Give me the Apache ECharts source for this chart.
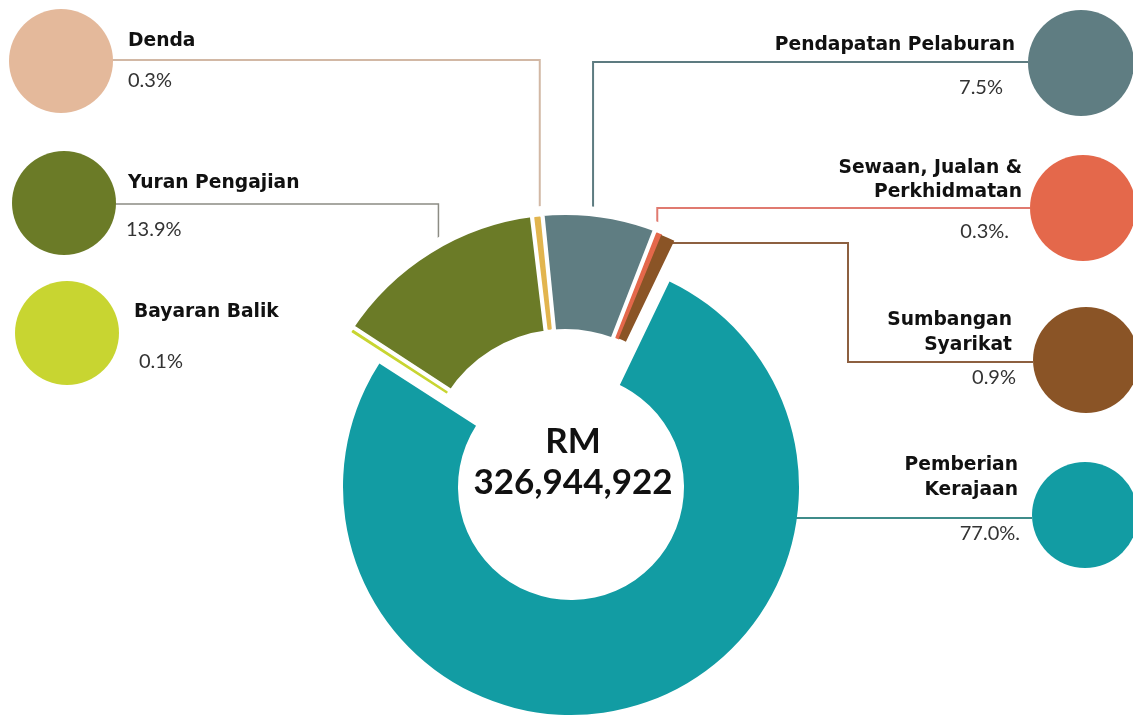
<!DOCTYPE html>
<html>
<head>
<meta charset="utf-8">
<script src="https://cdn.jsdelivr.net/npm/echarts@6/dist/echarts.min.js"></script>
<style>
  html, body { margin: 0; padding: 0; background: #fff; }
  #chart { width: 1133px; height: 718px; }
</style>
</head>
<body>
<div id="chart"></div>
<script>
// ---------------- DATA ----------------
const categories = ['Bayaran Balik', 'Yuran Pengajian', 'Denda', 'Pendapatan Pelaburan',
  'Sewaan, Jualan & Perkhidmatan', 'Sumbangan Syarikat', 'Pemberian Kerajaan'];
const shares = [0.1, 13.9, 0.3, 7.5, 0.3, 0.9, 77.0];
const pctText = ['0.1%', '13.9%', '0.3%', '7.5%', '0.3%.', '0.9%', '77.0%.'];
const labelNames = ['Bayaran Balik', 'Yuran Pengajian', 'Denda', 'Pendapatan Pelaburan',
  'Sewaan, Jualan &\nPerkhidmatan', 'Sumbangan\nSyarikat', 'Pemberian\nKerajaan'];
const totalLines = ['RM', '326,944,922'];

// ---------------- STYLE / LAYOUT ----------------
const sliceColors = ['#c8d531', '#6b7b27', '#e2b54f', '#5f7d82', '#e4684b', '#8a5426', '#129ca3'];
const dotColors   = ['#c8d531', '#6b7b27', '#e4b99b', '#5f7d82', '#e4684b', '#8a5426', '#129ca3'];
const lineColors  = [null, '#8c8c84', '#d2b8a5', '#5d7b80', '#e07a70', '#8d6040', '#3f8c8a'];

const BIG = [6], GROUP = [1, 3], SLIVERS = [0, 2, 4, 5];
const CA = [571, 487], RA = [113, 228];      // main ring
const CB = [565, 469];                       // exploded group
const RB = [135, 259], BORDER_B = 10;
const RC = [141, 253];
const R_EDGE = 253;
const START = 147.2;

// leader line layout (elbows)
const leaders = {
  1: { dx: 10, y: 204, x: 115 },
  2: { dx: 3, y: 60, x: 112 },
  3: { dx: -7, y: 62, x: 1028 },
  4: { dx: -4, y: 208, x: 1030 },
  5: { k: 0.955, turn: 848, y: 362, x: 1033 },
  6: { y: 518, x: 1032 }
};

const TRANSP = 'rgba(0,0,0,0)';
function buildData(visibleIdx, styleFn, labelIdx) {
  return categories.map((c, i) => {
    const vis = visibleIdx.indexOf(i) >= 0;
    const hasLabel = labelIdx.indexOf(i) >= 0;
    return {
      name: c,
      value: shares[i],
      itemStyle: vis ? styleFn(i) : { color: TRANSP, borderWidth: 0 },
      label: { show: hasLabel },
      labelLine: { show: hasLabel, lineStyle: { color: lineColors[i] || '#888', width: i === 1 ? 1.5 : 2 } }
    };
  });
}

function groupLayout(p) {
  const spec = leaders[p.dataIndex];
  if (!spec || !p.labelLinePoints) return {};
  const p0 = p.labelLinePoints[0];
  let pts;
  if (spec.turn === undefined) {
    const ax = p0[0] + spec.dx;
    const ay = CB[1] - Math.sqrt(R_EDGE * R_EDGE - Math.pow(ax - CB[0], 2));
    pts = [[ax, ay], [ax, spec.y], [spec.x, spec.y]];
  } else {
    const ax = CB[0] + (p0[0] - CB[0]) * spec.k;
    const ay = CB[1] + (p0[1] - CB[1]) * spec.k;
    pts = [[ax, ay], [spec.turn, ay], [spec.turn, spec.y], [spec.x, spec.y]];
  }
  return { x: spec.x, y: spec.y, labelLinePoints: pts };
}
function mainLayout(p) {
  const spec = leaders[p.dataIndex];
  if (!spec) return {};
  const x0 = CA[0] + Math.sqrt(RA[1] * RA[1] - Math.pow(spec.y - CA[1], 2)) - 1;
  return { x: spec.x, y: spec.y, labelLinePoints: [[x0, spec.y], [(x0 + spec.x) / 2, spec.y], [spec.x, spec.y]] };
}

const baseLabel = { show: true, formatter: ' ', fontSize: 1, color: TRANSP };

const series = [
  {
    type: 'pie', center: CA, radius: RA, startAngle: START, clockwise: true,
    avoidLabelOverlap: false, silent: true, animation: false,
    label: baseLabel, labelLine: { show: true },
    labelLayout: mainLayout,
    data: buildData(BIG, i => ({ color: sliceColors[i], borderWidth: 0 }), [6])
  },
  {
    type: 'pie', center: CB, radius: RB, startAngle: START, clockwise: true,
    avoidLabelOverlap: false, silent: true, animation: false,
    label: baseLabel, labelLine: { show: true },
    labelLayout: groupLayout,
    data: buildData(GROUP, i => ({ color: sliceColors[i], borderColor: '#fff', borderWidth: BORDER_B }), [1, 2, 3, 4, 5])
  },
  {
    type: 'pie', center: CB, radius: RC, startAngle: START, clockwise: true,
    avoidLabelOverlap: false, silent: true, animation: false,
    label: { show: false }, labelLine: { show: false },
    data: buildData(SLIVERS, i => ({ color: sliceColors[i], borderColor: sliceColors[i], borderWidth: i === 5 ? 0 : 1.6 }), [])
  }
];

// legend blocks (circle + name + percentage)
const NAME_FONT = { fontFamily: 'DejaVu Sans', fontWeight: 'bold', fontSize: 18.7, color: '#111' };
const PCT_FONT = { fontFamily: 'Lato', fontWeight: 'normal', fontSize: 20, color: '#333' };
const legendLayout = [
  { i: 2, side: 'left', pos: 9,  cy: 61,  size: 104, lhN: 40, lhP: 40, padN: 10, padP: 10 },
  { i: 1, side: 'left', pos: 12, cy: 203, size: 104, lhN: 54, lhP: 40, padN: 7,  padP: 5 },
  { i: 0, side: 'left', pos: 15, cy: 333, size: 104, lhN: 58, lhP: 42, padN: 10, padP: 15 },
  { i: 3, side: 'right', pos: -1, cy: 63,  size: 106, lhN: 50, lhP: 36, padN: 8,  padP: 20 },
  { i: 4, side: 'right', pos: -3, cy: 208, size: 106, lhN: 24, lhP: 56, padN: 3,  padP: 16, spacer: 0 },
  { i: 5, side: 'right', pos: -6, cy: 360, size: 106, lhN: 25, lhP: 41, padN: 16, padP: 12, spacer: 14 },
  { i: 6, side: 'right', pos: -5, cy: 518, size: 106, lhN: 25, lhP: 63, padN: 9,  padP: 7,  spacer: 12 }
];

const legends = legendLayout.map(L => {
  const i = L.i;
  const nameLines = labelNames[i].split('\n');
  const H = nameLines.length * L.lhN + L.lhP + (L.spacer || 0);
  const top = L.cy - Math.max(L.size / 2, H / 2);
  const isLeft = L.side === 'left';
  const padN = isLeft ? [0, 0, 0, L.padN] : [0, L.padN, 0, 0];
  const padP = isLeft ? [0, 0, 0, L.padP] : [0, L.padP, 0, 0];
  const lg = {
    data: [{ name: categories[i], itemStyle: { color: dotColors[i], borderWidth: 0 } }],
    top: top,
    orient: 'vertical',
    align: isLeft ? 'left' : 'right',
    icon: 'circle',
    itemWidth: L.size, itemHeight: L.size,
    padding: 0,
    selectedMode: false,
    itemStyle: { borderWidth: 0 },
    formatter: () => {
      let s = nameLines.map(t => '{n|' + t + '}').join('\n') + '\n{p|' + pctText[i] + '}';
      if (L.spacer) s += '\n{s| }';
      return s;
    },
    textStyle: {
      rich: {
        n: Object.assign({ lineHeight: L.lhN, padding: padN, align: isLeft ? 'left' : 'right' }, NAME_FONT),
        p: Object.assign({ lineHeight: L.lhP, padding: padP, align: isLeft ? 'left' : 'right' }, PCT_FONT),
        s: { lineHeight: L.spacer || 1, fontSize: 1 }
      }
    }
  };
  if (isLeft) lg.left = L.pos; else lg.right = L.pos;
  return lg;
});

const chart = echarts.init(document.getElementById('chart'), null, { renderer: 'canvas' });
chart.setOption({
  backgroundColor: '#fff',
  animation: false,
  legend: legends,
  graphic: [{
    type: 'text', x: 573, y: 462, silent: true,
    style: {
      text: totalLines.join('\n'),
      fill: '#111',
      font: 'bold 35px Lato',
      lineHeight: 41,
      align: 'center',
      verticalAlign: 'middle'
    }
  }],
  series: series
});
</script>
</body>
</html>
